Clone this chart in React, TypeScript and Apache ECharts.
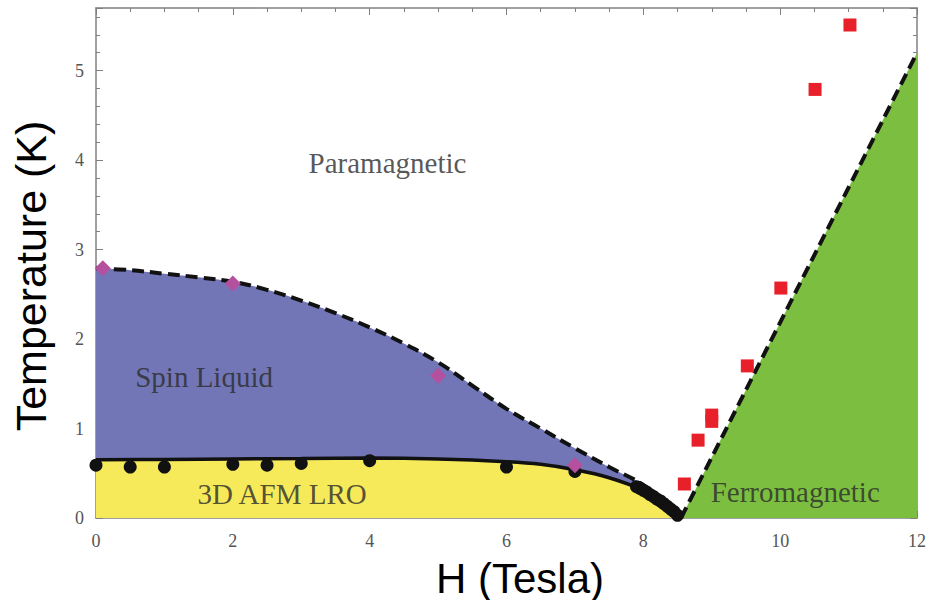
import { useEffect, useRef } from "react";
import * as echarts from "echarts";

// Phase boundary (dashed, spin liquid / paramagnetic)
const dashH = [0, 0.5, 1, 1.5, 2, 2.5, 3, 3.5, 4, 4.5, 5, 5.5, 6, 6.5, 7, 7.5, 8, 8.25, 8.55];
const dashT = [2.79, 2.77, 2.73, 2.69, 2.64, 2.55, 2.43, 2.29, 2.13, 1.95, 1.74, 1.48, 1.22, 1.0, 0.78, 0.57, 0.37, 0.2, 0];
// Phase boundary (solid, 3D AFM LRO)
const solidH = [0, 1, 2, 3, 4, 5, 6, 6.5, 7, 7.5, 8, 8.25, 8.5, 8.55];
const solidT = [0.65, 0.655, 0.66, 0.665, 0.67, 0.66, 0.63, 0.6, 0.54, 0.45, 0.31, 0.19, 0.05, 0];
// Ferromagnetic boundary (dashed)
const ferroH = [8.55, 12];
const ferroT = [0, 5.2];
// Data points
const afmH = [0, 0.5, 1, 2, 2.5, 3, 4, 6, 7, 7.9, 7.95, 8.0, 8.05, 8.1, 8.15, 8.2, 8.25, 8.3, 8.35, 8.4, 8.45, 8.5];
const afmT = [0.59, 0.57, 0.57, 0.6, 0.59, 0.61, 0.64, 0.57, 0.52, 0.35, 0.33, 0.31, 0.29, 0.26, 0.24, 0.21, 0.19, 0.16, 0.13, 0.1, 0.07, 0.03];
const spinH = [0.1, 2, 5, 7];
const spinT = [2.79, 2.62, 1.59, 0.59];
const fmH = [8.6, 8.8, 9.0, 9.0, 9.52, 10.01, 10.51, 11.02];
const fmT = [0.38, 0.87, 1.15, 1.08, 1.7, 2.57, 4.79, 5.51];
// Region labels
const regionNames = ["Paramagnetic", "Spin Liquid", "3D AFM LRO", "Ferromagnetic"];
const regionH = [4.26, 1.58, 2.72, 10.22];
const regionT = [3.97, 1.58, 0.27, 0.29];

const zip = (a: number[], b: number[]) => a.map((v, i) => [v, b[i]]);

const AXIS_GRAY = "#808080";
const SERIF = "'Liberation Serif', 'DejaVu Serif', serif";
const SANS = "'Liberation Sans', Arial, sans-serif";

export default function App() {
  const ref = useRef<HTMLDivElement>(null);
  useEffect(() => {
    if (!ref.current) return;
    const chart = echarts.init(ref.current, undefined, { renderer: "svg" });
    const lineStyleAxis = { color: AXIS_GRAY, width: 1.5 };
    const baseX = {
      type: "value",
      min: 0,
      max: 12,
      interval: 2,
      splitLine: { show: false },
      axisLine: { show: true, onZero: false, lineStyle: lineStyleAxis },
      axisTick: { show: true, inside: true, length: 7, lineStyle: { color: AXIS_GRAY, width: 1 } },
      minorTick: { show: true, splitNumber: 4, length: 4, lineStyle: { color: AXIS_GRAY, width: 1 } },
      minorSplitLine: { show: false },
    };
    const baseY = (pos: string, interval: number, len: number, labels: boolean, line: boolean) => ({
      type: "value",
      min: 0,
      max: 5.7,
      interval,
      position: pos,
      splitLine: { show: false },
      axisLine: { show: line, onZero: false, lineStyle: lineStyleAxis },
      axisTick: { show: true, inside: true, length: len, lineStyle: { color: AXIS_GRAY, width: 1 } },
      axisLabel: labels
        ? {
            show: true,
            color: "#555",
            fontFamily: SERIF,
            fontSize: 18,
            margin: 12,
            formatter: (v: number) => (Math.abs(v - Math.round(v)) < 1e-6 ? String(Math.round(v)) : ""),
          }
        : { show: false },
    });
    const dash = { color: "#111", width: 4, type: [12, 6] };
    const option: any = {
      animation: false,
      backgroundColor: "#fff",
      grid: { left: 96, right: 11, top: 8, bottom: 82 },
      xAxis: [
        {
          ...baseX,
          position: "bottom",
          axisLabel: { color: "#555", fontFamily: SERIF, fontSize: 18, margin: 14 },
        },
        { ...baseX, position: "top", axisLabel: { show: false } },
      ],
      yAxis: [
        baseY("left", 1, 7, true, true),
        baseY("left", 0.2, 4, false, false),
        baseY("right", 1, 7, false, true),
        baseY("right", 0.2, 4, false, false),
      ],
      graphic: [
        {
          type: "text",
          x: 520,
          y: 578,
          style: {
            text: "H (Tesla)",
            fontFamily: SANS,
            fontSize: 42,
            fill: "#000",
            align: "center",
            verticalAlign: "middle",
          },
        },
        {
          type: "text",
          x: 31,
          y: 276,
          rotation: Math.PI / 2,
          style: {
            text: "Temperature (K)",
            fontFamily: SANS,
            fontSize: 43,
            fill: "#000",
            align: "center",
            verticalAlign: "middle",
          },
        },
      ],
      series: [
        {
          type: "line",
          name: "Spin liquid boundary",
          data: zip(dashH, dashT),
          smooth: 0.4,
          showSymbol: false,
          symbol: "none",
          areaStyle: { color: "#7276b6", opacity: 1 },
          lineStyle: dash,
          z: 2,
        },
        {
          type: "line",
          name: "AFM boundary",
          data: zip(solidH, solidT),
          smooth: 0.4,
          showSymbol: false,
          symbol: "none",
          areaStyle: { color: "#f6ea5a", opacity: 1 },
          lineStyle: { color: "#111", width: 3.5 },
          z: 3,
        },
        {
          type: "line",
          name: "Ferromagnetic boundary",
          data: zip(ferroH, ferroT),
          showSymbol: false,
          symbol: "none",
          areaStyle: { color: "#7cbf40", opacity: 1 },
          lineStyle: dash,
          z: 2,
        },
        {
          type: "scatter",
          name: "AFM LRO",
          data: zip(afmH, afmT),
          symbol: "circle",
          symbolSize: 13,
          itemStyle: { color: "#111", opacity: 1 },
          z: 5,
        },
        {
          type: "scatter",
          name: "Spin liquid",
          data: zip(spinH, spinT),
          symbol: "diamond",
          symbolSize: [16, 16],
          itemStyle: { color: "#b5509f", opacity: 1 },
          z: 5,
        },
        {
          type: "scatter",
          name: "Ferromagnetic",
          data: zip(fmH, fmT),
          symbol: "rect",
          symbolSize: 13,
          itemStyle: { color: "#e8202a", opacity: 1 },
          z: 5,
        },
        {
          type: "scatter",
          name: "labels",
          silent: true,
          data: regionNames.map((n, i) => ({ value: [regionH[i], regionT[i]], name: n })),
          symbolSize: 1,
          itemStyle: { color: "transparent" },
          label: {
            show: true,
            position: "inside",
            formatter: (p: any) => p.name,
            fontFamily: SERIF,
            fontSize: 29,
            color: "#2b2b2b",
          },
          z: 6,
        },
      ],
    };
    chart.setOption(option);
    return () => chart.dispose();
  }, []);
  return <div ref={ref} style={{ width: 929, height: 600, position: "absolute", left: 0, top: 0 }} />;
}
